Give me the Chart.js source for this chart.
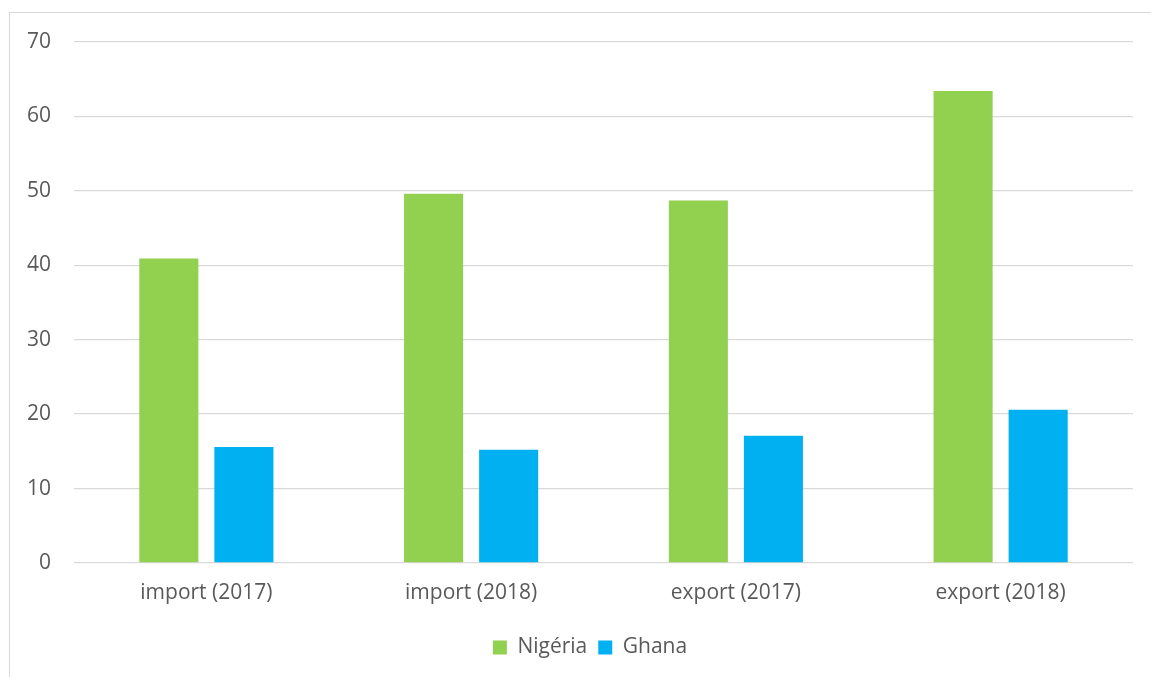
<!DOCTYPE html>
<html>
<head>
<meta charset="utf-8">
<script src="https://cdn.jsdelivr.net/npm/chart.js@4/dist/chart.umd.min.js"></script>
<style>
  html, body { margin: 0; padding: 0; background: #fff; }
  #frame {
    position: absolute; left: 9px; top: 12px;
    width: 1200px; height: 720px;
    border: 1px solid #d9d9d9;
  }
  #wrap { position: absolute; left: 0; top: 0; width: 1151px; height: 677px; }
</style>
</head>
<body>
<div id="frame"></div>
<div id="wrap"><canvas id="chart"></canvas></div>
<script>
const categories = ["import (2017)", "import (2018)", "export (2017)", "export (2018)"];
const nigeria = [40.9, 49.6, 48.7, 63.4];
const ghana = [15.6, 15.2, 17.1, 20.6];
const yTicks = [0, 10, 20, 30, 40, 50, 60, 70];

const FONT = "'Open Sans', 'Noto Sans', sans-serif";
const TEXT = "#595959";
const GRID = "#d9d9d9";

// the legend sits a little right of the canvas centre in the original
const legendShift = {
  id: "legendShift",
  afterLayout(chart) {
    if (!chart.legend) return;
    chart.legend.left += 10;
    chart.legend.right += 10;
  },
};

new Chart(document.getElementById("chart").getContext("2d"), {
  type: "bar",
  data: {
    labels: categories,
    datasets: [
      { label: "Nigéria", data: nigeria, backgroundColor: "#92d050", borderWidth: 0 },
      { label: "Ghana", data: ghana, backgroundColor: "#00b0f0", borderWidth: 0 },
    ],
  },
  plugins: [legendShift],
  options: {
    animation: false,
    responsive: true,
    maintainAspectRatio: false,
    categoryPercentage: 0.567,
    barPercentage: 0.787,
    layout: { padding: { left: 27, right: 18, top: 42, bottom: 9 } },
    plugins: {
      tooltip: { enabled: false },
      legend: {
        position: "bottom",
        labels: {
          color: TEXT,
          boxWidth: 14,
          boxHeight: 14,
          padding: 11,
          font: { family: FONT, size: 21 },
        },
      },
    },
    scales: {
      x: {
        grid: { display: false },
        border: { display: false },
        ticks: {
          color: TEXT,
          padding: 9,
          maxRotation: 0,
          font: { family: FONT, size: 21 },
        },
        afterFit(scale) { scale.height = 63; },
      },
      y: {
        min: 0,
        max: 70,
        afterBuildTicks(scale) { scale.ticks = yTicks.map(v => ({ value: v })); },
        grid: { color: GRID, lineWidth: 1.3, drawTicks: false },
        border: { display: false },
        ticks: {
          color: TEXT,
          padding: 23,
          font: { family: FONT, size: 21 },
        },
        afterFit(scale) { scale.width = 47; },
      },
    },
  },
});
</script>
</body>
</html>
